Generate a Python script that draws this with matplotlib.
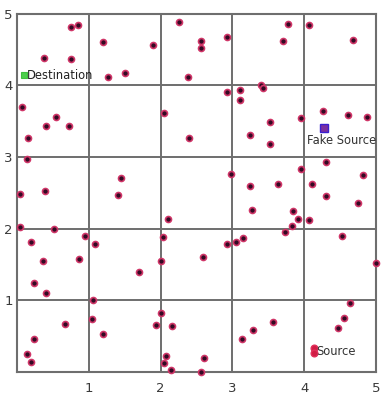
import matplotlib
matplotlib.use("Agg")
import matplotlib.pyplot as plt

# Sensor node positions
node_x = [0.75, 0.85, 1.20, 1.90, 2.25, 0.37, 0.75, 1.27, 1.50, 2.38,
          2.57, 2.57, 2.93, 3.78, 4.07, 3.71, 4.68, 2.92, 3.10, 3.10,
          3.40, 3.43, 0.065, 0.54, 0.41, 0.72, 0.16, 0.14, 2.05, 2.39,
          1.45, 3.52, 3.95, 3.25, 3.52, 4.26, 4.61, 4.87, 2.98, 3.95,
          4.31, 4.82, 3.25, 3.63, 4.11, 4.30, 4.75, 3.27, 3.84, 3.92,
          4.07, 3.83, 3.73, 4.53, 3.15, 3.05, 2.93, 2.59, 5.00, 0.04,
          0.39, 1.41, 2.11, 0.04, 0.52, 0.19, 0.95, 1.08, 2.03, 0.36,
          0.86, 2.00, 1.70, 0.24, 0.40, 1.06, 1.04, 0.67, 1.20, 0.24,
          0.14, 0.20, 2.01, 1.93, 2.16, 2.08, 2.05, 2.14, 4.64, 4.56,
          4.47, 3.57, 3.29, 3.13, 2.60, 2.57]
node_y = [4.81, 4.85, 4.60, 4.56, 4.88, 4.38, 4.37, 4.12, 4.17, 4.12,
          4.62, 4.52, 4.67, 4.86, 4.85, 4.62, 4.63, 3.91, 3.94, 3.80,
          4.00, 3.97, 3.70, 3.56, 3.44, 3.44, 3.27, 2.97, 3.62, 3.26,
          2.71, 3.49, 3.55, 3.31, 3.18, 3.65, 3.59, 3.56, 2.77, 2.84,
          2.93, 2.75, 2.59, 2.62, 2.62, 2.45, 2.36, 2.26, 2.25, 2.14,
          2.12, 2.04, 1.95, 1.90, 1.87, 1.81, 1.79, 1.61, 1.52, 2.49,
          2.52, 2.47, 2.13, 2.02, 1.99, 1.82, 1.90, 1.78, 1.88, 1.55,
          1.58, 1.55, 1.40, 1.24, 1.10, 1.00, 0.74, 0.67, 0.53, 0.46,
          0.25, 0.14, 0.83, 0.66, 0.64, 0.23, 0.12, 0.03, 0.97, 0.75,
          0.62, 0.70, 0.59, 0.46, 0.20, 0.00]

source_x, source_y = [4.14, 4.14], [0.33, 0.27]
fake_x, fake_y = [4.28], [3.40]
dest_x, dest_y = [0.10], [4.15]

ticks = [1, 2, 3, 4, 5]
tick_labels = ["1", "2", "3", "4", "5"]

fig = plt.figure(figsize=(3.86, 3.98), dpi=100)
ax = fig.add_axes([0.044, 0.0653, 0.930, 0.900])

ax.set_xlim(0, 5)
ax.set_ylim(0, 5)
ax.set_xticks(ticks)
ax.set_yticks(ticks)
ax.set_xticklabels(tick_labels)
ax.set_yticklabels(tick_labels)
ax.tick_params(length=0, labelsize=9.5, colors="#3a3a3a")
ax.tick_params(axis="x", pad=7)
ax.tick_params(axis="y", pad=3)

grid_col = "#6e6e6e"
ax.grid(True, color=grid_col, linewidth=1.4)
ax.set_axisbelow(True)
for sp in ax.spines.values():
    sp.set_color(grid_col)
    sp.set_linewidth(1.5)

ax.plot(node_x, node_y, linestyle="none", marker="o", markersize=4.3,
        markerfacecolor="#330a24", markeredgecolor="#d03668",
        markeredgewidth=1.2, clip_on=False, zorder=3)

ax.plot(source_x, source_y, linestyle="none", marker="o", markersize=4.8,
        markerfacecolor="#d21c45", markeredgecolor="#e0305a",
        markeredgewidth=1.0, clip_on=False, zorder=4)
ax.plot(fake_x, fake_y, linestyle="none", marker="s", markersize=5.5,
        markerfacecolor="#7a2fa0", markeredgecolor="#3a1fd0",
        markeredgewidth=1.0, zorder=4)
ax.plot(dest_x, dest_y, linestyle="none", marker="s", markersize=4.5,
        markerfacecolor="#4ccf4c", markeredgecolor="#3fbf3f",
        markeredgewidth=0.8, zorder=4)

ax.text(0.14, 4.14, "Destination", fontsize=8.3, color="#222222",
        va="center", ha="left", zorder=5)
ax.text(4.04, 3.23, "Fake Source", fontsize=8.3, color="#333333",
        va="center", ha="left", clip_on=False, zorder=5)
ax.text(4.17, 0.28, "Source", fontsize=8.3, color="#333333",
        va="center", ha="left", zorder=5)

fig.savefig("out.png", dpi=100)
